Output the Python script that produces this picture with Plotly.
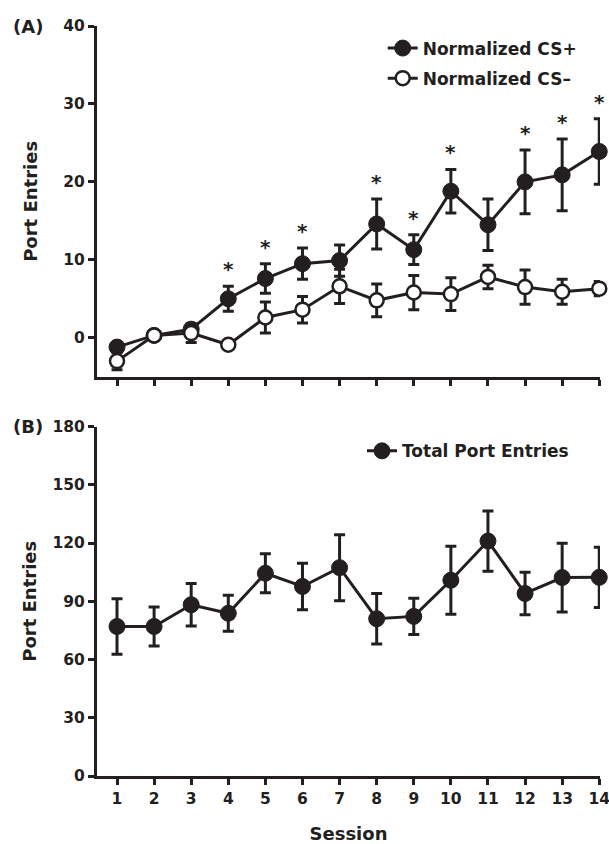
import plotly.graph_objects as go

# ---------------- data ----------------
sessions = [1, 2, 3, 4, 5, 6, 7, 8, 9, 10, 11, 12, 13, 14]

cs_plus = [-1.2, 0.3, 1.1, 5.0, 7.6, 9.5, 9.9, 14.6, 11.3, 18.8, 14.5, 20.0, 20.9, 23.9]
cs_plus_sem = [0.5, 0.5, 0.6, 1.6, 1.9, 2.0, 2.0, 3.2, 1.9, 2.8, 3.3, 4.1, 4.6, 4.2]

cs_minus = [-3.0, 0.3, 0.6, -0.9, 2.6, 3.6, 6.6, 4.8, 5.8, 5.6, 7.8, 6.5, 5.9, 6.3]
cs_minus_sem = [1.1, 0.5, 1.2, 0.5, 2.0, 1.7, 2.2, 2.1, 2.2, 2.1, 1.5, 2.2, 1.6, 0.9]

significant = [4, 5, 6, 8, 9, 10, 12, 13, 14]

total_entries = [77.0, 77.0, 88.2, 83.8, 104.4, 97.6, 107.3, 81.0, 82.2, 100.8, 121.0, 94.0, 102.2, 102.3]
total_sem = [14.3, 10.0, 11.0, 9.3, 10.0, 12.0, 17.0, 13.0, 9.3, 17.5, 15.5, 11.0, 17.7, 15.5]

y_ticks_a = [0, 10, 20, 30, 40]
y_ticks_b = [0, 30, 60, 90, 120, 150, 180]

# ---------------- style ----------------
INK = "#231f20"
FONT = "DejaVu Sans"

fig = go.Figure()

err_style = dict(type="data", thickness=3, width=5.5, color=INK)

fig.add_trace(go.Scatter(
    x=sessions, y=cs_plus, name="Normalized CS+", mode="lines+markers",
    line=dict(color=INK, width=3),
    marker=dict(symbol="circle", size=16, color=INK, line=dict(color=INK, width=1)),
    error_y=dict(array=cs_plus_sem, **err_style),
    xaxis="x", yaxis="y", legend="legend", legendgroup="a1", legendrank=1,
    cliponaxis=False,
))
fig.add_trace(go.Scatter(
    x=sessions, y=cs_minus, name="Normalized CS–", mode="lines+markers",
    line=dict(color=INK, width=3),
    marker=dict(symbol="circle", size=14, color="white", line=dict(color=INK, width=2.5)),
    error_y=dict(array=cs_minus_sem, **err_style),
    xaxis="x", yaxis="y", legend="legend", legendgroup="a2", legendrank=2,
    cliponaxis=False,
))
fig.add_trace(go.Scatter(
    x=sessions, y=total_entries, name="Total Port Entries", mode="lines+markers",
    line=dict(color=INK, width=3),
    marker=dict(symbol="circle", size=16, color=INK, line=dict(color=INK, width=1)),
    error_y=dict(array=total_sem, **err_style),
    xaxis="x2", yaxis="y2", legend="legend2",
    cliponaxis=False,
))

# significance asterisks
annotations = []
for s in significant:
    i = sessions.index(s)
    annotations.append(dict(
        x=s, y=cs_plus[i] + cs_plus_sem[i], xref="x", yref="y",
        text="*", showarrow=False, yanchor="middle", xanchor="center",
        yshift=17, font=dict(family=FONT, size=20, color=INK, weight="bold"),
    ))

label_font = dict(family=FONT, size=18, color=INK, weight="bold")
annotations.append(dict(xref="paper", yref="paper", x=(11 - 97) / 503, y=(776 - 26) / 750,
                        xanchor="left", yanchor="middle", text="(A)", showarrow=False,
                        font=label_font))
annotations.append(dict(xref="paper", yref="paper", x=(11 - 97) / 503, y=(776 - 426.7) / 750,
                        xanchor="left", yanchor="middle", text="(B)", showarrow=False,
                        font=label_font))

tick_font = dict(family=FONT, size=15.5, color=INK, weight="bold")
title_font = dict(family=FONT, size=18, color=INK, weight="bold")

axis_common = dict(showgrid=False, zeroline=False, showline=True, linewidth=3, linecolor=INK,
                   ticks="outside", ticklen=6, tickwidth=2.5, tickcolor=INK, tickfont=tick_font,
                   automargin=False, ticklabeloverflow="allow")

x_range = [0.461, 14.02]

fig.update_layout(
    template="none",
    width=609, height=844,
    margin=dict(l=97, r=9, t=26, b=68),
    paper_bgcolor="white", plot_bgcolor="white",
    font=dict(family=FONT, color=INK),
    showlegend=True,
    xaxis=dict(domain=[0, 1], anchor="y", range=x_range, tickvals=sessions,
               showticklabels=False, **axis_common),
    yaxis=dict(domain=[0.5324, 1], anchor="x", range=[-5, 40], tickvals=y_ticks_a,
               title=dict(text="Port Entries", font=title_font, standoff=22), **axis_common),
    xaxis2=dict(domain=[0, 1], anchor="y2", range=x_range, tickvals=sessions,
                ticktext=[str(s) for s in sessions],
                title=dict(text="Session", font=title_font, standoff=29), **axis_common),
    yaxis2=dict(domain=[0, 0.466], anchor="x2", range=[0, 180], tickvals=y_ticks_b,
                title=dict(text="Port Entries", font=title_font, standoff=12), **axis_common),
    legend=dict(x=(382.7 - 97) / 503, y=1 - (30.5 - 26) / 750, xanchor="left", yanchor="top",
                bgcolor="rgba(0,0,0,0)", borderwidth=0, traceorder="grouped", tracegroupgap=5,
                font=dict(family=FONT, size=17, color=INK, weight="bold")),
    legend2=dict(x=(362 - 97) / 503, y=(776 - 433.3) / 750, xanchor="left", yanchor="top",
                 bgcolor="rgba(0,0,0,0)", borderwidth=0,
                 font=dict(family=FONT, size=17, color=INK, weight="bold")),
    annotations=annotations,
)

# remove the browser's default 8px page margin so the figure fills the window exactly
fig.write_html("out.html", config={"displayModeBar": False},
               post_script="document.body.style.margin='0';")
